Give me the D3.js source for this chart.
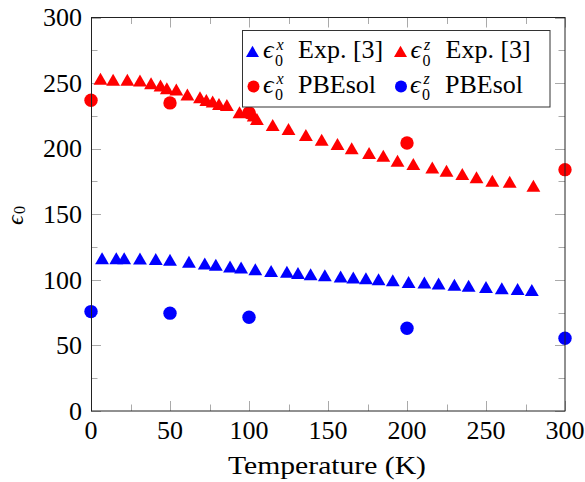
<!DOCTYPE html>
<html>
<head>
<meta charset="utf-8">
<script src="https://cdn.jsdelivr.net/npm/d3@7"></script>
<style>
  html, body { margin: 0; padding: 0; background: #fff; }
  svg { display: block; }
</style>
</head>
<body>
<div id="chart"></div>
<script>
// ---- data ----
const expTempX = [7, 16, 21, 31, 41, 50, 62, 72, 79, 88, 95, 104, 114, 124, 131, 139, 148, 158, 166, 174, 182, 191, 201, 211, 220, 230, 239, 250, 260, 270, 279];
const expEpsX  = [115, 115, 115, 114.7, 114.3, 113.7, 112.2, 110.9, 109.9, 108.6, 107.9, 106.6, 105.3, 104.6, 103.6, 102.8, 102, 101, 100.2, 99.7, 99.0, 98.2, 96.9, 96.4, 95.6, 94.7, 93.9, 93.1, 92.1, 91.4, 90.8];
const expTempZ = [6, 14, 23, 31, 38, 44, 48, 54, 61, 69, 73, 77, 81, 86, 94, 103, 105, 115, 125, 136, 146, 156, 165, 176, 185, 194, 204, 216, 225, 235, 244, 254, 265, 280];
const expEpsZ  = [251.7, 251.1, 251.1, 250.4, 248.3, 246.6, 244.5, 243.5, 239.7, 237.6, 235.6, 234.4, 232.6, 231.8, 226.2, 223.7, 221.1, 216.6, 213.5, 208.9, 205.3, 202, 198.7, 195.2, 193.1, 189.3, 186.8, 184.2, 181.7, 179.2, 176.6, 174, 173.3, 170.2];
const pbeTemp  = [0, 50, 100, 200, 300];
const pbeEpsX  = [236.9, 234.9, 227.3, 204.3, 184];
const pbeEpsZ  = [75.8, 74.6, 71.5, 63.1, 55.5];
const majorTicks = [0, 50, 100, 150, 200, 250, 300];
const minorTicks = [25, 75, 125, 175, 225, 275];
const xLabel = "Temperature (K)";

// ---- layout ----
const W = 585, H = 482;
const L = 91, R = 565, T = 17.5, B = 411;
const BLUE = "#0000ff", RED = "#ff0000";
const SERIF = "'Liberation Serif', 'Tinos', 'Times New Roman', 'DejaVu Serif', 'Noto Serif', serif";

const svg = d3.select("#chart").append("svg").attr("width", W).attr("height", H)
  .attr("font-family", SERIF).style("font-family", SERIF);
const x = d3.scaleLinear().domain([0, 300]).range([L, R]);
const y = d3.scaleLinear().domain([0, 300]).range([B, T]);

// ticks (inward, all four sides)
const tickG = svg.append("g").attr("stroke", "#aaa").attr("stroke-width", 1);
function ticks(vals, len) {
  vals.forEach(v => {
    const xv = Math.round(x(v)) + 0.5, yv = Math.round(y(v)) + 0.5;
    tickG.append("line").attr("x1", xv).attr("x2", xv).attr("y1", B).attr("y2", B - len);
    tickG.append("line").attr("x1", xv).attr("x2", xv).attr("y1", T).attr("y2", T + len);
    tickG.append("line").attr("y1", yv).attr("y2", yv).attr("x1", L).attr("x2", L + len);
    tickG.append("line").attr("y1", yv).attr("y2", yv).attr("x1", R).attr("x2", R - len);
  });
}
ticks(majorTicks, 10);
ticks(minorTicks, 6.5);

function txt(g) {
  return g.append("text").attr("font-family", SERIF).style("font-family", SERIF).attr("fill", "#000");
}

// tick labels
const FS = 26;
majorTicks.forEach(d => {
  txt(svg).attr("x", x(d)).attr("y", 439).attr("text-anchor", "middle").attr("font-size", FS).text(d);
  txt(svg).attr("x", 82).attr("y", y(d) + 8.8).attr("text-anchor", "end").attr("font-size", FS).text(d);
});

// axis labels
txt(svg).attr("x", 327).attr("y", 474).attr("text-anchor", "middle")
  .attr("font-size", FS).attr("textLength", 198).attr("lengthAdjust", "spacingAndGlyphs")
  .text(xLabel);
const yl = svg.append("g").attr("transform", "translate(23,225) rotate(-90)");
txt(yl).attr("x", 0).attr("y", 0).attr("font-size", 24).attr("font-style", "italic").text("ϵ");
txt(yl).attr("x", 11).attr("y", 2).attr("font-size", 16).text("0");

// markers
function triPath(r) {
  const h = r * Math.sqrt(3) / 2;
  return `M0,${-r}L${h},${r / 2}L${-h},${r / 2}Z`;
}
const plot = svg.append("g");
plot.append("g").selectAll("path").data(expTempX.map((t, i) => [t, expEpsX[i]])).join("path")
  .attr("d", triPath(8)).attr("fill", BLUE)
  .attr("transform", d => `translate(${x(d[0])},${y(d[1])})`);
plot.append("g").selectAll("path").data(expTempZ.map((t, i) => [t, expEpsZ[i]])).join("path")
  .attr("d", triPath(8)).attr("fill", RED)
  .attr("transform", d => `translate(${x(d[0])},${y(d[1])})`);
plot.append("g").selectAll("circle").data(pbeTemp.map((t, i) => [t, pbeEpsX[i]])).join("circle")
  .attr("cx", d => x(d[0])).attr("cy", d => y(d[1])).attr("r", 6.7).attr("fill", RED);
plot.append("g").selectAll("circle").data(pbeTemp.map((t, i) => [t, pbeEpsZ[i]])).join("circle")
  .attr("cx", d => x(d[0])).attr("cy", d => y(d[1])).attr("r", 6.7).attr("fill", BLUE);

// axis box
svg.append("rect").attr("x", L + 0.5).attr("y", T).attr("width", R - L - 0.5).attr("height", B - T)
  .attr("fill", "none").attr("stroke", "#222").attr("stroke-width", 1);

// legend
const leg = svg.append("g");
leg.append("rect").attr("x", 242.5).attr("y", 30.5).attr("width", 307.5).attr("height", 76.5)
  .attr("fill", "#fff").attr("stroke", "#333").attr("stroke-width", 1);
const entries = [
  { mark: "tri", color: BLUE, sup: "x", rest: "Exp. [3]", mx: 252.5, tx: 263, base: 58.3 },
  { mark: "tri", color: RED,  sup: "z", rest: "Exp. [3]", mx: 400.5, tx: 410.5, base: 58.3 },
  { mark: "circ", color: RED, sup: "x", rest: "PBEsol", mx: 253.5, tx: 263, base: 92.7 },
  { mark: "circ", color: BLUE, sup: "z", rest: "PBEsol", mx: 401, tx: 410, base: 92.7 }
];
entries.forEach(e => {
  if (e.mark === "tri") {
    leg.append("path").attr("d", triPath(7.5)).attr("fill", e.color)
      .attr("transform", `translate(${e.mx},${e.base - 5})`);
  } else {
    leg.append("circle").attr("cx", e.mx).attr("cy", e.base - 6.2).attr("r", 6).attr("fill", e.color);
  }
  txt(leg).attr("x", e.tx).attr("y", e.base).attr("font-size", FS).attr("font-style", "italic").text("ϵ");
  txt(leg).attr("x", e.tx + 13.5).attr("y", e.base - 8.5).attr("font-size", 16).attr("font-style", "italic").text(e.sup);
  txt(leg).attr("x", e.tx + 12).attr("y", e.base + 7.5).attr("font-size", 16).text("0");
  txt(leg).attr("x", e.tx + 35).attr("y", e.base).attr("font-size", FS).text(e.rest);
});
</script>
</body>
</html>
